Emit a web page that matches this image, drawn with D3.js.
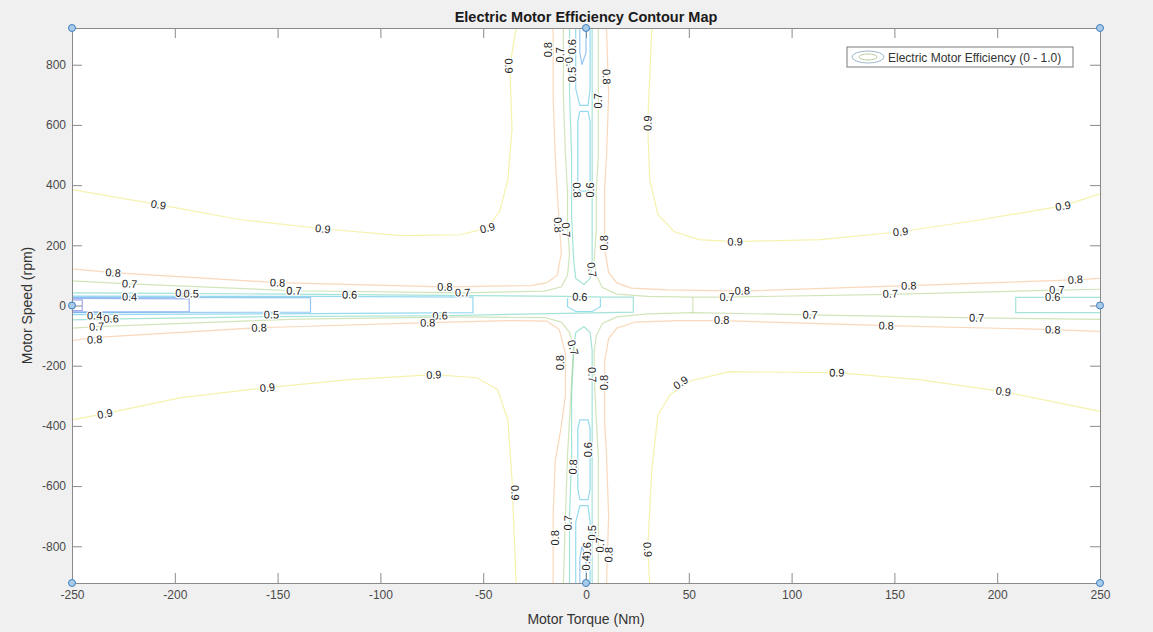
<!DOCTYPE html>
<html>
<head>
<meta charset="utf-8">
<script src="https://cdn.jsdelivr.net/npm/d3@7"></script>
<style>
  body { margin: 0; background: #f0f0f0; }
  svg { display: block; font-family: "Liberation Sans", Arial, Helvetica, sans-serif; }
</style>
</head>
<body>
<div id="chart"></div>
<script>
// ---- data (torque Nm, speed rpm) ----
const torqueRange = [-250, 250];
const speedRange = [-922, 922];
const torqueTicks = [-250, -200, -150, -100, -50, 0, 50, 100, 150, 200, 250];
const speedTicks = [-800, -600, -400, -200, 0, 200, 400, 600, 800];

// sample grid markers shown on the map
const gridTorque = [-250, 0, 250, -250, 250, -250, 0, 250];
const gridSpeed = [922, 922, 922, 0, 0, -922, -922, -922];

// contour lines per efficiency level
const eff09 = [
  [[-250, 385], [-208, 335], [-168, 285], [-128, 255], [-90, 232], [-61, 235], [-48, 258], [-42, 312], [-38, 418], [-36, 584], [-37, 796], [-34, 922]],
  [[32, 922], [30, 600], [31, 418], [35, 302], [43, 245], [55, 219], [72, 212], [114, 219], [153, 245], [192, 285], [232, 331], [250, 371]],
  [[-250, -380], [-234, -359], [-197, -306], [-155, -273], [-115, -246], [-74, -230], [-53, -240], [-43, -280], [-38, -380], [-36, -579], [-34, -922]],
  [[31, -922], [30, -811], [32, -545], [35, -363], [41, -296], [51, -250], [70, -220], [122, -223], [162, -246], [203, -286], [250, -352]]
];
const eff08 = [
  [[-16, 922], [-16, 700], [-15, 500], [-14, 380], [-13, 270], [-12, 175], [-14, 100], [-19, 76], [-27, 66], [-69, 62], [-150, 76], [-230, 109], [-250, 122]],
  [[10, 922], [11, 700], [10, 500], [9, 380], [9, 250], [9, 190], [11, 110], [15, 75], [22, 58], [40, 52], [76, 48], [157, 66], [238, 85], [250, 90]],
  [[-16, -922], [-16, -700], [-15, -520], [-12, -400], [-10, -300], [-10, -160], [-13, -80], [-19, -52], [-35, -50], [-77, -57], [-159, -74], [-240, -107], [-250, -117]],
  [[10, -922], [11, -700], [10, -500], [9, -380], [9, -250], [9, -190], [11, -110], [15, -75], [24, -55], [45, -50], [66, -50], [146, -67], [227, -80], [250, -86]]
];
const eff07 = [
  [[-11, 922], [-11, 700], [-10, 500], [-9, 380], [-9, 260], [-8, 170], [-9, 100], [-12, 62], [-20, 48], [-60, 42], [-142, 49], [-222, 72], [-250, 82]],
  [[6, 922], [6, 700], [6, 500], [5, 380], [5, 250], [4, 150], [5, 100], [8, 60], [15, 38], [30, 30], [52, 28], [69, 28], [148, 37], [229, 51], [250, 54]],
  [[52, 28], [52, -24]],
  [[6, -922], [6, -700], [6, -500], [5, -380], [4, -230], [4, -150], [5, -100], [8, -60], [15, -38], [30, -28], [52, -24], [109, -31], [190, -41], [250, -46]],
  [[-11, -922], [-10, -700], [-9, -500], [-8, -380], [-7, -250], [-6, -140], [-8, -90], [-12, -55], [-20, -40], [-60, -38], [-140, -45], [-238, -70], [-250, -75]]
];
const eff06 = [
  [[-250, 42], [-196, 40], [-115, 36], [-55, 33], [-10, 30], [10, 28], [23, 28], [23, -22], [10, -24], [-10, -26], [-71, -34], [-155, -37], [-235, -45], [-250, -48]],
  [[-8, 922], [-8, 700], [-7, 500], [-7, 300], [-6, 150], [-5, 90], [-1, 70], [2, 90], [3, 150], [3, 300], [3, 500], [3, 700], [3, 922]],
  [[-8, -922], [-8, -700], [-7, -500], [-7, -300], [-6, -150], [-5, -90], [-1, -70], [2, -90], [3, -150], [3, -300], [3, -500], [3, -700], [3, -922]],
  [[250, 27], [209, 27], [209, -24], [250, -24]]
];
const eff05 = [
  [[-250, 31], [-134, 30], [-55, 28], [-55, -24], [-134, -27], [-250, -30]],
  [[-9, 24], [-9, -4], [-5, -20], [3, -20], [7, -4], [7, 24]],
  [[-5, 922], [-5, 720], [-3, 665], [1, 665], [2, 720], [2, 922]],
  [[-3, 645], [1, 645], [2, 610], [2, 410], [1, 380], [-3, 380], [-4, 410], [-4, 610], [-3, 645]],
  [[-5, -922], [-5, -720], [-3, -665], [1, -665], [2, -720], [2, -922]],
  [[-3, -645], [1, -645], [2, -610], [2, -410], [1, -380], [-3, -380], [-4, -410], [-4, -610], [-3, -645]]
];
const eff04 = [
  [[-250, 27], [-134, 26], [-134, -22], [-250, -24]],
  [[0, 922], [0, 840], [-2, 800], [-3, 840], [-3, 922]],
  [[0, -922], [0, -840], [-2, -800], [-3, -840], [-3, -922]]
];
const eff03 = [
  [[-250, 24], [-193, 22], [-193, -20], [-250, -21]]
];
const eff02 = [
  [[-250, 19], [-245, 19], [-245, -16], [-250, -17]]
];

// inline labels: [level, torque, speed]
const contourLabels = [
  [0.9, -37.5, 796], [0.8, -18.5, 850], [0.7, -12.6, 833], [0.6, -6.8, 860], [0.4, -7.8, 800], [0.5, -6.8, 767],
  [0.8, 10, 760], [0.7, 6, 680], [0.9, 30, 606],
  [0.8, -4.4, 384], [0.6, 2, 384], [0.8, -13.6, 268], [0.7, -9.7, 251], [0.8, 8.8, 208], [0.7, 2.9, 119],
  [0.9, -208, 335], [0.9, -128, 255], [0.9, -48, 258],
  [0.9, 72.5, 212], [0.9, 153, 245], [0.9, 232, 331],
  [0.8, -230, 109], [0.7, -222, 72], [0.4, -222, 29], [0.6, -196, 42], [0.5, -192, 39],
  [0.8, -150, 76], [0.7, -142, 49], [0.6, -115, 36], [0.8, -68.6, 62], [0.7, -60, 43],
  [0.4, -239, -34], [0.6, -231, -44], [0.7, -238, -70], [0.8, -239, -113],
  [0.5, -153, -30], [0.8, -159, -74], [0.6, -71, -34], [0.8, -77, -57],
  [0.7, 68.6, 29], [0.8, 76, 49], [0.7, 148, 39], [0.8, 157, 66], [0.7, 229, 52], [0.8, 238, 86], [0.6, 227, 29],
  [0.8, 66, -50], [0.7, 109, -31], [0.8, 146, -67], [0.7, 190, -41], [0.8, 227, -80],
  [0.6, -3, 29],
  [0.7, -6.3, -140], [0.8, -12.6, -190], [0.7, 3, -230], [0.8, 9, -256],
  [0.9, 46, -256], [0.9, 122, -223], [0.9, 203, -286], [0.9, -155, -273], [0.9, -74, -230], [0.9, -234, -360],
  [0.6, 1, -479], [0.8, -6.3, -536], [0.9, -34.5, -622], [0.7, -8.8, -722], [0.8, -15, -772],
  [0.5, 3, -755], [0.6, 0.5, -812], [0.7, 7, -795], [0.8, 11, -828], [0.4, 0, -855], [0.9, 30, -811]
];

const contourSets = [
  [0.2, eff02], [0.3, eff03], [0.4, eff04], [0.5, eff05],
  [0.6, eff06], [0.7, eff07], [0.8, eff08], [0.9, eff09]
];

// ---- layout ----
const W = 1153, H = 632;
const plot = { left: 72, right: 1100, top: 28, bottom: 583 };

const x = d3.scaleLinear().domain(torqueRange).range([plot.left, plot.right]);
const y = d3.scaleLinear().domain(speedRange).range([plot.bottom, plot.top]);

// parula-like colours for the levels
const levelColor = d3.scaleLinear()
  .domain([0.2, 0.3, 0.4, 0.5, 0.6, 0.7, 0.8, 0.9])
  .range(['#3a3ad0', '#2a62e6', '#1a86e0', '#13aedb', '#35c2a6', '#9cc465', '#f2a868', '#e8e24a']);

const svg = d3.select('#chart').append('svg')
  .attr('width', W)
  .attr('height', H)
  .style('background', '#f0f0f0');

svg.append('rect')
  .attr('x', plot.left).attr('y', plot.top)
  .attr('width', plot.right - plot.left)
  .attr('height', plot.bottom - plot.top)
  .attr('fill', '#ffffff');

svg.append('clipPath').attr('id', 'plot-clip')
  .append('rect')
  .attr('x', plot.left).attr('y', plot.top)
  .attr('width', plot.right - plot.left)
  .attr('height', plot.bottom - plot.top);

const line = d3.line().x(d => x(d[0])).y(d => y(d[1]));

const contourG = svg.append('g').attr('clip-path', 'url(#plot-clip)');
contourSets.forEach(([level, lines]) => {
  contourG.selectAll(null)
    .data(lines)
    .join('path')
    .attr('d', line)
    .attr('fill', 'none')
    .attr('stroke', levelColor(level))
    .attr('stroke-opacity', 0.45)
    .attr('stroke-width', 1.2);
});

// label angle follows the nearest segment of the same level
const linesByLevel = new Map(contourSets);
function labelAngle(level, px, py) {
  let best = Infinity, ang = 0;
  (linesByLevel.get(level) || []).forEach(pts => {
    for (let i = 1; i < pts.length; i++) {
      const ax = x(pts[i - 1][0]), ay = y(pts[i - 1][1]);
      const bx = x(pts[i][0]), by = y(pts[i][1]);
      const dx = bx - ax, dy = by - ay, L = dx * dx + dy * dy;
      let t = L ? ((px - ax) * dx + (py - ay) * dy) / L : 0;
      t = Math.max(0, Math.min(1, t));
      const d = Math.hypot(ax + t * dx - px, ay + t * dy - py);
      if (d < best) { best = d; ang = Math.atan2(dy, dx) * 180 / Math.PI; }
    }
  });
  if (ang >= 90) ang -= 180;
  if (ang < -90) ang += 180;
  return ang;
}

svg.append('g')
  .selectAll('text')
  .data(contourLabels)
  .join('text')
  .attr('transform', d => {
    const px = x(d[1]), py = y(d[2]);
    return `translate(${px},${py}) rotate(${labelAngle(d[0], px, py)})`;
  })
  .attr('text-anchor', 'middle')
  .attr('dy', '0.35em')
  .style('font-size', '11px')
  .style('fill', '#222')
  .style('stroke', '#ffffff')
  .style('stroke-width', 2.5)
  .style('paint-order', 'stroke')
  .text(d => d[0].toFixed(1));

// axes (ticks point inward, box on)
const axisColor = '#8a8a8a';
const plainNum = d => String(d);
function styleAxis(g) {
  g.selectAll('path, line').attr('stroke', axisColor);
  g.selectAll('text').style('font-size', '12px').style('fill', '#4a4a4a')
    .style('font-family', '"Liberation Sans", Arial, sans-serif');
}
svg.append('g')
  .attr('transform', `translate(0,${plot.bottom})`)
  .call(d3.axisBottom(x).tickValues(torqueTicks).tickFormat(plainNum).tickSizeInner(-10).tickSizeOuter(0).tickPadding(7))
  .call(styleAxis);
svg.append('g')
  .attr('transform', `translate(0,${plot.top})`)
  .call(d3.axisTop(x).tickValues(torqueTicks).tickSizeInner(-10).tickSizeOuter(0).tickFormat(''))
  .call(styleAxis);
svg.append('g')
  .attr('transform', `translate(${plot.left},0)`)
  .call(d3.axisLeft(y).tickValues(speedTicks).tickFormat(plainNum).tickSizeInner(-10).tickSizeOuter(0).tickPadding(6))
  .call(styleAxis);
svg.append('g')
  .attr('transform', `translate(${plot.right},0)`)
  .call(d3.axisRight(y).tickValues(speedTicks).tickSizeInner(-10).tickSizeOuter(0).tickFormat(''))
  .call(styleAxis);

// grid markers, drawn over the axis lines
svg.append('g')
  .selectAll('circle')
  .data(gridTorque.map((t, i) => [t, gridSpeed[i]]))
  .join('circle')
  .attr('cx', d => x(d[0]))
  .attr('cy', d => y(d[1]))
  .attr('r', 3.5)
  .attr('fill', '#a9cbea')
  .attr('stroke', '#3f7fc0')
  .attr('stroke-width', 1);

// title and axis labels
svg.append('text')
  .attr('x', (plot.left + plot.right) / 2)
  .attr('y', 22)
  .attr('text-anchor', 'middle')
  .style('font-size', '14.5px')
  .style('font-weight', 'bold')
  .style('fill', '#1a1a1a')
  .text('Electric Motor Efficiency Contour Map');

svg.append('text')
  .attr('x', (plot.left + plot.right) / 2)
  .attr('y', 624)
  .attr('text-anchor', 'middle')
  .style('font-size', '14px')
  .style('fill', '#333')
  .text('Motor Torque (Nm)');

svg.append('text')
  .attr('transform', `translate(32,${(plot.top + plot.bottom) / 2}) rotate(-90)`)
  .attr('text-anchor', 'middle')
  .style('font-size', '14px')
  .style('fill', '#333')
  .text('Motor Speed (rpm)');

// legend
const legend = svg.append('g').attr('transform', 'translate(847,47)');
legend.append('rect')
  .attr('width', 226).attr('height', 20)
  .attr('fill', '#ffffff')
  .attr('stroke', '#7a7a7a')
  .attr('stroke-width', 1);
legend.append('ellipse')
  .attr('cx', 21).attr('cy', 10).attr('rx', 16).attr('ry', 6)
  .attr('fill', 'none').attr('stroke', '#9fb8c8').attr('stroke-width', 1);
legend.append('ellipse')
  .attr('cx', 21).attr('cy', 10).attr('rx', 9).attr('ry', 3)
  .attr('fill', 'none').attr('stroke', '#b8cfa0').attr('stroke-width', 1);
legend.append('text')
  .attr('x', 41).attr('y', 14.5)
  .style('font-size', '12px')
  .style('fill', '#333')
  .text('Electric Motor Efficiency (0 - 1.0)');
</script>
</body>
</html>
